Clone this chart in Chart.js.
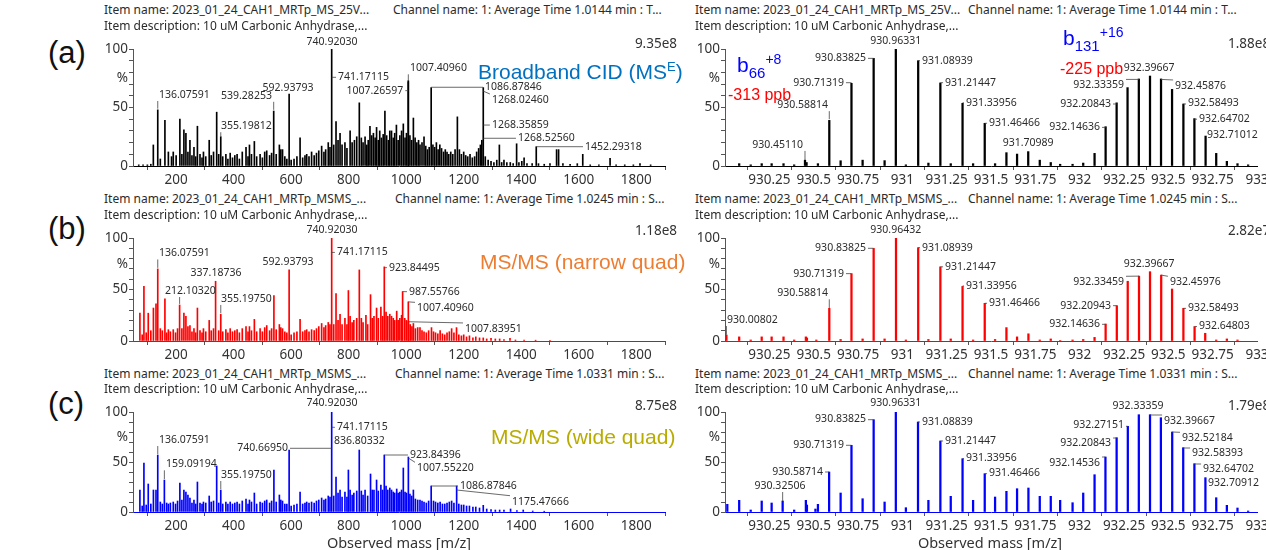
<!DOCTYPE html>
<html>
<head>
<meta charset="utf-8">
<script src="https://cdn.jsdelivr.net/npm/chart.js@4.4.1/dist/chart.umd.min.js"></script>
<style>
html, body { margin: 0; padding: 0; background: #fff; overflow: hidden; width: 1266px; height: 550px; position: relative; }
canvas { position: absolute; }
.t { position: absolute; white-space: pre; font-family: 'Noto Sans', sans-serif; color: #2b2b2b; line-height: 1.2; }
</style>
</head>
<body>
<script>
// tick values
var leftTicks = [200, 400, 600, 800, 1000, 1200, 1400, 1600, 1800];
var rightTicks = [930.25, 930.5, 930.75, 931, 931.25, 931.5, 931.75, 932, 932.25, 932.5, 932.75, 933];
var yTicks = [0, 10, 20, 30, 40, 50, 60, 70, 80, 90, 100];

// (a) broadband CID, full range [m/z, %]
var peaksA = [[70,1],[85,1],[100,1],[112,1.5],[120.7,18],[136.08,48],[145,6],[161,39],[173,12],[184,8],[190,12],[200,9],
  [213,40],[220,10],[227,31],[234,28],[241,12],[248,22],[255,9],[262,16],[268,8],[274,34],[283,10],[290,7],[295,12],
  [303,8],[315,22],[322,9],[330,12],[341,46],[348,10],[355.2,25],[362,8],[373,10],[380,6],[388,11],[396,7],[404,9],
  [412,10],[420,6],[430,12],[443,16],[450,8],[455,18],[462,10],[472,21],[480,8],[492,10],[500,7],[508,12],[515,13],
  [525,9],[532,11],[539.28,47],[548,10],[559,18],[564,14],[570,14],[578,8],[585,6],[592.94,61.5],[600,5],[610,6],[620,8],
  [631,24],[640,7],[648,9],[654,10],[662,8],[671,12],[680,9],[688,11],[696,13],[706,17],[714,12],[720,14],[729,20],
  [735,16],[740.92,100],[748,18],[756,38],[763,22],[770,28],[777,18],[787,20],[794,15],[805,30],[812,20],[820,22],
  [828,25],[837,54],[844,24],[850,20],[857,25],[863,18],[868,22],[874,34],[880,26],[886,28],[892,24],[897,33],[903,22],
  [908,30],[914,24],[920,27],[926,47],[932,26],[938,22],[943,30],[949,30],[955,24],[960,28],[966,35],[972,22],[978,26],
  [984,30],[990,36],[996,24],[1001,28],[1007.27,72],[1007.41,73],[1013,26],[1019,22],[1025,41],[1031,24],[1037,20],
  [1043,22],[1048,18],[1055,20],[1062,25],[1068,17],[1074,14],[1080,16],[1086.88,67],[1093,18],[1099,16],[1105,20],
  [1111,14],[1117,18],[1123,15],[1130,12],[1136,14],[1142,12],[1148,10],[1155,12],[1162,10],[1170,14],[1178,42],
  [1185,14],[1192,10],[1200,12],[1207,9],[1214,8],[1222,10],[1230,7],[1238,8],[1245,12],[1252,15],[1258,18],[1263,22],
  [1268.02,67],[1275,8],[1285,5],[1295,4],[1305,3],[1315,5],[1324,18],[1332,3],[1340,5],[1350,3],[1362,3],[1372,2],
  [1384,19],[1392,3],[1402,4],[1410,7],[1420,2],[1438,2],[1452.29,16.5],[1460,2],[1480,1.5],[1500,2],[1523,14],[1530,14],
  [1545,2],[1570,1.5],[1595,2],[1614,10],[1640,1],[1670,1],[1709,6.5],[1730,1],[1760,1],[1790,1],[1813,2],[1850,1]];

// (b) MS/MS narrow quad
var peaksB = [[74,27],[82,6],[88,53],[96,8],[103,27],[112,10],[121,32],[130,36],[136.08,70],[145,12],[152,10],[161,41],
  [167,8],[173,11],[180,9],[190,11],[198,8],[205,12],[212.1,35],[220,12],[227,27],[234,24],[241,14],[248,15],[255,9],
  [262,12],[268,8],[274,32],[283,10],[290,8],[295,12],[303,9],[315,20],[322,10],[330,12],[337.19,58],[348,10],[355.2,26],
  [362,9],[373,11],[380,8],[388,12],[396,9],[404,10],[412,11],[420,8],[430,12],[443,14],[450,9],[455,14],[462,10],
  [472,21],[480,9],[492,12],[500,9],[508,13],[515,15],[525,10],[532,12],[540,44],[548,11],[559,16],[564,13],[570,12],
  [578,9],[585,8],[592.94,69],[600,6],[610,8],[620,9],[631,21],[640,9],[648,10],[654,11],[662,9],[671,11],[680,10],
  [688,12],[696,14],[706,17],[714,13],[720,15],[729,18],[735,16],[740.92,100],[748,16],[756,46],[763,20],[770,26],
  [777,16],[787,22],[794,16],[799,49],[805,24],[812,18],[818,20],[828,22],[837,69],[844,22],[850,18],[860,25],[866,16],
  [876,45],[882,22],[888,24],[897,32],[903,22],[912,33],[918,24],[923.84,72],[930,28],[936,24],[943,26],[949,24],
  [955,22],[960,20],[967,29],[972,20],[978,22],[984,25],[987.56,48],[995,22],[1001,20],[1007.41,38],[1007.84,19],
  [1014,16],[1020,14],[1025,17],[1032,12],[1040,13],[1048,13],[1055,10],[1062,9],[1070,8],[1078,10],[1088,13],[1095,9],
  [1102,8],[1110,7],[1118,10],[1126,7],[1134,6],[1142,8],[1150,9],[1158,12],[1166,8],[1175,13],[1183,6],[1192,5],
  [1200,6],[1210,4],[1220,5],[1232,3],[1242,4],[1255,3],[1268,3],[1280,2],[1295,2.5],[1310,2],[1325,2],[1340,1.5],
  [1361,2.5],[1380,1],[1410,1],[1450,0.8],[1500,0.6]];

// (c) MS/MS wide quad
var peaksC = [[74,22],[82,6],[88,49],[96,7],[103,28],[112,8],[121,22],[130,22],[136.08,57],[145,10],[152,8],[159.09,32],
  [167,9],[173,8],[180,9],[190,10],[198,8],[205,11],[213,29],[220,12],[227,22],[234,20],[241,17],[248,14],[255,9],
  [262,12],[268,8],[274,30],[283,9],[290,8],[295,10],[303,9],[315,16],[322,10],[330,11],[341,46],[348,9],[355.2,22],
  [362,8],[373,10],[380,8],[388,10],[396,8],[404,9],[412,10],[420,8],[430,11],[443,13],[450,8],[455,12],[462,10],
  [472,19],[480,8],[492,10],[500,9],[508,11],[515,12],[525,9],[532,11],[540,42],[548,10],[559,17],[564,12],[570,11],
  [578,8],[585,8],[592.94,62],[600,6],[610,7],[620,8],[631,20],[640,8],[648,9],[654,10],[662,9],[671,10],[680,9],
  [688,11],[696,12],[706,14],[714,12],[720,13],[729,16],[735,15],[740.92,100],[748,16],[756,35],[763,19],[770,22],
  [777,15],[787,20],[794,15],[799,42],[805,22],[812,17],[818,19],[828,21],[836.8,62],[844,21],[850,17],[857,22],
  [866,16],[876,38],[882,22],[888,22],[897,32],[903,21],[912,27],[918,22],[923.84,57],[930,26],[936,22],[943,24],
  [949,22],[955,20],[960,19],[967,23],[972,19],[978,20],[984,22],[990,44],[996,20],[1001,19],[1007.55,55],[1013,18],
  [1019,16],[1025,22],[1032,13],[1040,12],[1048,12],[1055,11],[1062,10],[1070,9],[1078,11],[1086.88,26],[1095,11],
  [1102,10],[1110,9],[1118,10],[1126,8],[1134,8],[1142,9],[1150,10],[1158,11],[1166,9],[1175.48,26],[1183,8],[1192,7],
  [1200,7],[1210,6],[1220,6],[1232,5],[1242,5],[1255,4],[1268,6.7],[1280,3],[1295,2.5],[1310,2],[1325,2],[1340,2],
  [1363,3],[1385,1.5],[1407,2],[1440,1],[1480,0.8]];

// zoomed isotope envelopes 930-933
var peaksRA = [[930.08,2],[930.145,1],[930.207,2],[930.263,2],[930.33,2],[930.39,1],[930.4511,5],[930.46,3],[930.524,2],
  [930.58814,39],[930.652,4.5],[930.71319,70.7],[930.776,5],[930.83825,92],[930.90,4.6],[930.96331,100],[931.02,1],
  [931.08939,90],[931.147,2.5],[931.21447,71],[931.273,2],[931.33956,53.6],[931.399,2],[931.46466,36.5],[931.523,2],
  [931.587,11.4],[931.647,10.2],[931.70989,12.3],[931.775,5],[931.837,3],[931.89,1.5],[931.96,1.5],[932.02,2.5],
  [932.084,10.8],[932.14636,33.6],[932.20843,54],[932.27,67],[932.33359,74.4],[932.39667,76.9],[932.45876,74.4],
  [932.521,65.5],[932.58493,53],[932.64702,40.5],[932.71012,25.6],[932.77,10.8],[932.83,4],[932.89,2],[932.95,1]];

var peaksRB = [[930.00802,5.8],[930.08,4],[930.145,1],[930.207,4],[930.263,4],[930.33,4],[930.39,1],[930.456,4],
  [930.462,3],[930.515,1],[930.58814,31.7],[930.652,1.5],[930.71319,65.4],[930.776,2],[930.83825,89.9],[930.90,2],
  [930.96432,100],[931.02,1],[931.08939,90.6],[931.147,1.5],[931.21447,72],[931.273,2],[931.33956,53],[931.399,1],
  [931.46466,36.6],[931.523,1.5],[931.587,13],[931.647,4],[931.711,7],[931.775,1],[931.837,2],[931.89,0.5],[931.96,1],
  [932.02,1.5],[932.084,3.5],[932.14636,16.5],[932.20943,34.3],[932.271,58],[932.33459,63],[932.39667,67.3],
  [932.45976,64],[932.521,50.5],[932.58493,31.7],[932.64803,14],[932.708,7.5],[932.77,1],[932.83,2],[932.89,1]];

var peaksRC = [[930.013,7.7],[930.08,11.7],[930.145,2],[930.207,11],[930.263,9],[930.32506,11],[930.39,2],[930.456,11.7],
  [930.462,7],[930.51,3],[930.524,7.7],[930.58714,40],[930.652,19],[930.71319,66.7],[930.776,13.3],[930.83825,92.3],
  [930.90,10],[930.96331,100],[931.02,4.3],[931.08839,90],[931.147,11.7],[931.21447,71],[931.273,15.7],[931.33956,53.3],
  [931.399,11.7],[931.46466,38.3],[931.523,15],[931.587,20.7],[931.647,23.3],[931.711,24],[931.775,15.7],[931.837,15.7],
  [931.89,11.7],[931.96,9.3],[932.02,19],[932.084,37.3],[932.14536,55],[932.20843,74.3],[932.27151,85.7],
  [932.33359,97.3],[932.39667,97.3],[932.458,94.3],[932.52184,80],[932.58393,64.3],[932.64702,48.3],[932.70912,34.3],
  [932.77,14.3],[932.83,6.7],[932.89,4],[932.95,1]];

// peak annotations: [text, label m/z, label %, align, leader m/z, leader %]
var labelsA = [['740.92030',742,106,'c'],['741.17115',763,75.8,'l',741.17,75.8],['136.07591',140.4,60.7,'l',136.08,49],
  ['539.28253',533,60,'r',539.28,48],['355.19812',356,34,'l',355.2,25],['592.93793',589,67,'c'],
  ['1007.26597',990,64.4,'r',1007.27,64.4],['1007.40960',1013.3,83.5,'l',1007.41,73],['1086.87846',1274,67.3,'l',1086.88,67.3],
  ['1268.02460',1298,56.4,'l',1268.02,64],['1268.35859',1298,35,'l',1268.36,35],['1268.52560',1388.7,23.7,'l',1268.53,23.7],
  ['1452.29318',1621.7,16.5,'l',1452.29,16.5]];
var labelsB = [['740.92030',742,107.8,'c'],['741.17115',759,86,'l',741.17,86],['136.07591',140.4,85,'l',136.08,71],
  ['212.10320',161.3,48.5,'l',212.1,36],['337.18736',338.6,65.7,'c'],['355.19750',356,40.8,'l',355.2,27],
  ['592.93793',589,76.4,'c'],['923.84495',940,71.2,'l',923.84,71.2],['987.55766',1009.7,47.9,'l',987.56,47.9],
  ['1007.40960',1037.6,31.7,'l',1007.41,38],['1007.83951',1204.5,11.7,'l',1007.84,18.7]];
var labelsC = [['740.92030',742,108.7,'c'],['741.17115',759,84.7,'l',741.17,84.7],['836.80332',749,71.3,'l'],
  ['740.66950',589,63.7,'r',740.67,63.7],['136.07591',140.4,72,'l',136.08,58],['159.09194',164.8,47.7,'l',159.09,33],
  ['355.19750',356,37,'l',355.2,23],['923.84396',1013,57,'l',923.84,57],['1007.55220',1037.6,43.7,'l',1007.55,54],
  ['1086.87846',1187,26,'l',1086.88,26],['1175.47666',1368,10.3,'l',1175.48,22]];
var labelsRA = [['930.96331',930.963,107,'c'],['930.83825',930.795,92,'r',930.83825,92],['930.71319',930.671,71.2,'r',930.71319,71.2],
  ['930.58814',930.581,52,'r',930.58814,40],['930.45110',930.44,18,'r',930.4511,5],['931.08939',931.111,90,'l',931.08939,90],
  ['931.21447',931.241,71.2,'l',931.21447,71.2],['931.33956',931.359,54,'l',931.33956,54],['931.46466',931.489,36.5,'l',931.46466,36.5],
  ['931.70989',931.709,19.4,'c'],['932.14636',932.115,33,'r',932.14636,33],['932.20843',932.177,53,'r',932.20843,53],
  ['932.33359',932.25,69.2,'r',932.33359,74],['932.39667',932.392,83.5,'c'],['932.45876',932.538,68.4,'l',932.45876,74],
  ['932.58493',932.611,53.6,'l',932.58493,53],['932.64702',932.673,40,'l',932.64702,40],['932.71012',932.718,26.5,'l',932.71012,25.6]];
var labelsRB = [['930.96432',930.963,107.8,'c'],['930.83825',930.795,90,'r',930.83825,90],['930.71319',930.671,65.4,'r',930.71319,65.4],
  ['930.58814',930.581,46.3,'r',930.58814,32],['930.00802',930.011,20.4,'l',930.00802,6],['931.08939',931.111,90.6,'l',931.08939,90.6],
  ['931.21447',931.241,72,'l',931.21447,72],['931.33956',931.359,53.4,'l',931.33956,53.4],['931.46466',931.489,36.6,'l',931.46466,36.6],
  ['932.14636',932.115,16.2,'r',932.14636,16.2],['932.20943',932.177,34.3,'r',932.20943,34.3],['932.33459',932.25,57,'r',932.33459,63],
  ['932.39667',932.392,74.5,'c'],['932.45976',932.509,57,'l',932.45976,64],['932.58493',932.611,31.7,'l',932.58493,31.7],
  ['932.64803',932.673,14.9,'l',932.64803,14]];
var labelsRC = [['930.96331',930.963,108.7,'c'],['930.83825',930.795,92.7,'r',930.83825,92.3],['930.71319',930.671,67,'r',930.71319,66.7],
  ['930.58714',930.553,40.3,'r',930.58714,40],['930.32506',930.31,26,'c',930.32506,11],['931.08839',931.111,90.3,'l',931.08839,90],
  ['931.21447',931.241,71.3,'l',931.21447,71],['931.33956',931.359,53.7,'l',931.33956,53.3],['931.46466',931.489,39.3,'l',931.46466,38.3],
  ['932.14536',932.115,49.3,'r',932.14536,55],['932.20843',932.177,69.3,'r',932.20843,74],['932.27151',932.25,87,'r',932.27151,85.7],
  ['932.33359',932.329,106,'c'],['932.39667',932.476,91.3,'l',932.39667,97],['932.52184',932.577,73.7,'l',932.52184,80],
  ['932.58393',932.634,58.7,'l',932.58393,64],['932.64702',932.696,42.7,'l',932.64702,48],['932.70912',932.724,28.7,'l',932.70912,34]];

var FONT = 'Noto Sans';

function peakLabels(items) {
  return {
    id: 'peakLabels',
    afterDatasetsDraw: function(chart) {
      var ctx = chart.ctx, xs = chart.scales.x, ys = chart.scales.y;
      ctx.save();
      ctx.font = '10.5px "' + FONT + '"';
      ctx.textBaseline = 'middle';
      ctx.textAlign = 'left';
      ctx.fillStyle = '#2b2b2b';
      ctx.strokeStyle = '#444';
      ctx.lineWidth = 0.8;
      items.forEach(function(it) {
        var tx = xs.getPixelForValue(it[1]);
        var ty = ys.getPixelForValue(it[2]);
        var w = ctx.measureText(it[0]).width;
        var x0 = it[3] === 'l' ? tx : (it[3] === 'r' ? tx - w : tx - w / 2);
        ctx.fillText(it[0], x0, ty);
        if (it.length > 4) {
          var sx = xs.getPixelForValue(it[4]), sy = ys.getPixelForValue(it[5]);
          var ex = Math.min(Math.max(sx, x0 - 2), x0 + w + 2);
          var ey = Math.min(Math.max(sy, ty - 6), ty + 6);
          ctx.beginPath();
          ctx.moveTo(sx, sy);
          ctx.lineTo(ex, ey);
          ctx.stroke();
        }
      });
      ctx.font = '13.5px "' + FONT + '"';
      ctx.fillStyle = '#333';
      ctx.textAlign = 'right';
      ctx.fillText('%', chart.chartArea.left - 5, ys.getPixelForValue(75));
      ctx.restore();
    }
  };
}

function spectrum(left, width, padRight, top, bottom, peaks, color, xMin, xMax, xTicks, labels, barW) {
  var cv = document.createElement('canvas');
  cv.width = width;
  cv.height = bottom - top + 44;
  cv.style.left = left + 'px';
  cv.style.top = (top - 22) + 'px';
  document.body.appendChild(cv);

  new Chart(cv.getContext('2d'), {
    type: 'bar',
    data: {
      datasets: [{
        data: peaks.map(function(p) { return { x: p[0], y: p[1] }; }),
        backgroundColor: color,
        borderWidth: 0,
        barThickness: barW,
        grouped: false
      }]
    },
    options: {
      responsive: false,
      animation: false,
      layout: { padding: { top: 22, right: padRight, left: 0, bottom: 0 } },
      plugins: { legend: { display: false }, tooltip: { enabled: false } },
      scales: {
        x: {
          type: 'linear', min: xMin, max: xMax, offset: false,
          afterBuildTicks: function(s) { s.ticks = xTicks.map(function(v) { return { value: v }; }); },
          afterFit: function(s) { s.height = 22; },
          grid: { drawOnChartArea: false, tickLength: 4, tickColor: '#555' },
          border: { color: color, width: 1 },
          ticks: {
            autoSkip: false, maxRotation: 0, minRotation: 0, padding: 2, color: '#333',
            font: { family: FONT, size: 13.5 },
            callback: function(v) { return String(v); }
          }
        },
        y: {
          min: 0, max: 100,
          afterBuildTicks: function(s) { s.ticks = yTicks.map(function(v) { return { value: v }; }); },
          afterFit: function(s) { s.width = 40; },
          grid: { drawOnChartArea: false, tickLength: 4, tickColor: '#555' },
          border: { color: '#555', width: 1 },
          ticks: {
            autoSkip: false, padding: 1, color: '#333',
            font: { family: FONT, size: 13.5 },
            callback: function(v) { return (v === 0 || v === 50 || v === 100) ? String(v) : ''; }
          }
        }
      }
    },
    plugins: [peakLabels(labels)]
  });
}

var rows = [[49, 166], [238, 341], [412, 512]];
spectrum(93, 587, 15, rows[0][0], rows[0][1], peaksA, '#000000', 50, 1900, leftTicks, labelsA, 1);
spectrum(93, 587, 15, rows[1][0], rows[1][1], peaksB, '#ff0000', 50, 1900, leftTicks, labelsB, 1);
spectrum(93, 587, 15, rows[2][0], rows[2][1], peaksC, '#0000ff', 50, 1900, leftTicks, labelsC, 1);
spectrum(685, 592, 20, rows[0][0], rows[0][1], peaksRA, '#000000', 930, 933, rightTicks, labelsRA, 1.6);
spectrum(685, 592, 20, rows[1][0], rows[1][1], peaksRB, '#ff0000', 930, 933, rightTicks, labelsRB, 1.6);
spectrum(685, 592, 20, rows[2][0], rows[2][1], peaksRC, '#0000ff', 930, 933, rightTicks, labelsRC, 1.6);

function addText(html, x, y, style, align) {
  var d = document.createElement('div');
  d.className = 't';
  d.innerHTML = html;
  d.style.left = x + 'px';
  d.style.top = y + 'px';
  var tx = align === 'r' ? '-100%' : (align === 'c' ? '-50%' : '0');
  d.style.transform = 'translate(' + tx + ',-50%)';
  if (style) d.style.cssText += style;
  document.body.appendChild(d);
}

var hdr = 'font-size:12px;';
var desc = 'Item description: 10 uM Carbonic Anhydrase,...';
addText('Item name: 2023_01_24_CAH1_MRTp_MS_25V...', 104, 10, hdr);
addText('Channel name: 1: Average Time 1.0144 min : T...', 393, 10, hdr);
addText(desc, 104, 26, hdr);
addText('Item name: 2023_01_24_CAH1_MRTp_MS_25V...', 695, 10, hdr);
addText('Channel name: 1: Average Time 1.0144 min : T...', 968, 10, hdr);
addText(desc, 695, 26, hdr);

addText('Item name: 2023_01_24_CAH1_MRTp_MSMS_...', 104, 199, hdr);
addText('Channel name: 1: Average Time 1.0245 min : S...', 395, 199, hdr);
addText(desc, 104, 215, hdr);
addText('Item name: 2023_01_24_CAH1_MRTp_MSMS_...', 695, 199, hdr);
addText('Channel name: 1: Average Time 1.0245 min : S...', 968, 199, hdr);
addText(desc, 695, 215, hdr);

addText('Item name: 2023_01_24_CAH1_MRTp_MSMS_...', 104, 374, hdr);
addText('Channel name: 1: Average Time 1.0331 min : S...', 395, 374, hdr);
addText(desc, 104, 389, hdr);
addText('Item name: 2023_01_24_CAH1_MRTp_MSMS_...', 695, 374, hdr);
addText('Channel name: 1: Average Time 1.0331 min : S...', 968, 374, hdr);
addText(desc, 695, 389, hdr);

var big = 'font-family:"Liberation Sans",sans-serif;font-size:31px;color:#111;';
addText('(a)', 48, 53, big);
addText('(b)', 48, 229, big);
addText('(c)', 48, 404, big);

var inten = 'font-size:13.5px;color:#333;';
addText('9.35e8', 677, 43, inten, 'r');
addText('1.18e8', 677, 230, inten, 'r');
addText('8.75e8', 677, 405, inten, 'r');
addText('1.88e8', 1228, 43, inten);
addText('2.82e7', 1228, 230, inten);
addText('1.79e8', 1228, 405, inten);

var meth = 'font-family:"Liberation Sans",sans-serif;font-size:21px;';
addText('Broadband CID (MS<span style="font-size:13px;position:relative;top:-8px">E</span>)', 478, 72, meth + 'color:#0070c0;');
addText('MS/MS (narrow quad)', 480, 262, meth + 'color:#ed7d31;');
addText('MS/MS (wide quad)', 491, 437, meth + 'color:#b8ac00;');

var ion = 'font-family:"Liberation Sans",sans-serif;font-size:21px;color:#0000ff;';
addText('b<span style="font-size:15px;position:relative;top:6px">66</span><span style="font-size:14px;position:relative;top:-8px">+8</span>', 737, 65, ion);
addText('b<span style="font-size:15px;position:relative;top:6px">131</span><span style="font-size:14px;position:relative;top:-8px">+16</span>', 1063, 38, ion);
var ppb = 'font-family:"Liberation Sans",sans-serif;font-size:16px;color:#ff0000;';
addText('-313 ppb', 728, 95, ppb);
addText('-225 ppb', 1060, 69, ppb);

var xt = 'font-size:14.5px;color:#333;';
addText('Observed mass [m/z]', 399, 543, xt, 'c');
addText('Observed mass [m/z]', 990, 543, xt, 'c');
</script>
</body>
</html>
